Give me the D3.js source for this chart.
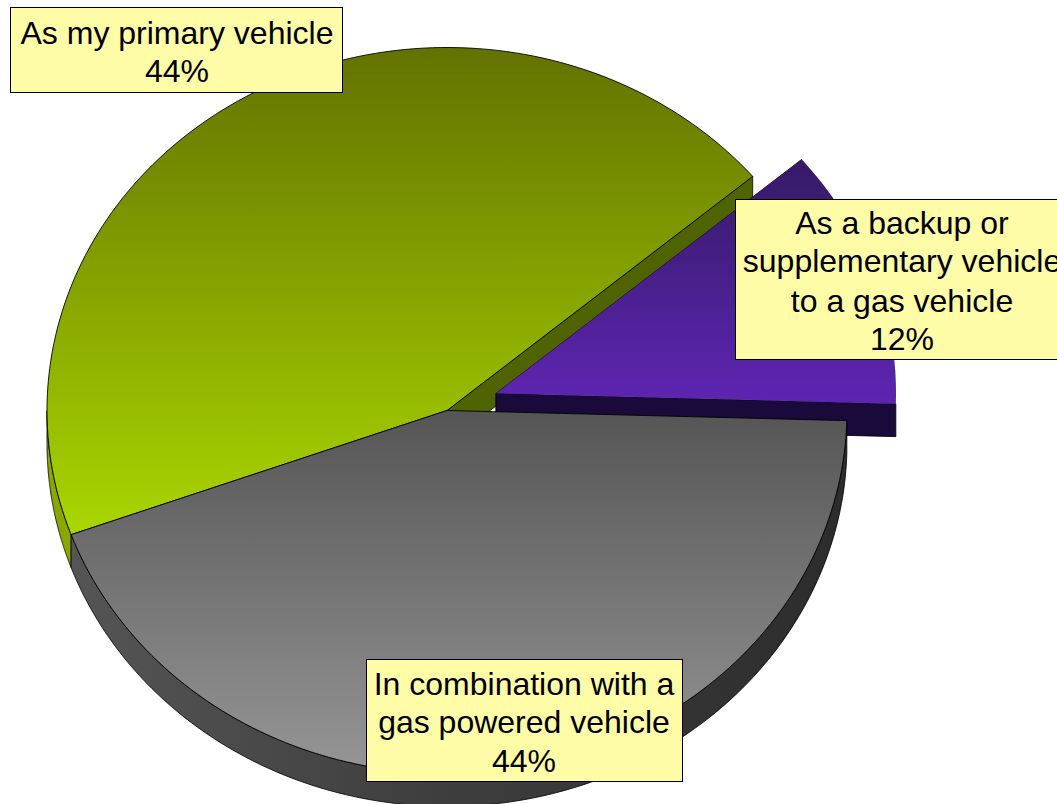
<!DOCTYPE html>
<html>
<head>
<meta charset="utf-8">
<script src="https://cdn.jsdelivr.net/npm/d3@7"></script>
<style>
html,body{margin:0;padding:0;background:#fff;overflow:hidden}
svg{display:block}
text{font-family:"Liberation Sans",Arial,sans-serif;font-size:32px;fill:#000;text-anchor:middle}
</style>
</head>
<body>
<svg id="c" width="1057" height="804"></svg>
<script>
// Data
const categories = ["In combination with a gas powered vehicle", "As my primary vehicle", "As a backup or supplementary vehicle to a gas vehicle"];
const sliceShares = [44.0, 44.4, 11.6];
const percentLabels = ["44%", "44%", "12%"];
const labelLines = [
  ["In combination with a", "gas powered vehicle"],
  ["As my primary vehicle"],
  ["As a backup or", "supplementary vehicle", "to a gas vehicle"]
];

// Styling and layout (not data)
const W = 1057, H = 804;
const cx = 447, cy = 410.5, rx = 400, ry = 363, depth = 33;
const firstAngleDeg = 91.6;
const explode = [[0, 0], [0, 0], [49, -17]];
const topStops = [
  [[0, "#555555"], [1, "#969696"]],
  [[0, "#637200"], [1, "#a9d600"]],
  [[0, "#351a66"], [1, "#5d25b2"]]
];
const gradY = [[410, 775], [47, 533], [158, 403]];
const wallStops = [
  [[0, "#555555"], [0.45, "#3f3f3f"], [1, "#2c2c2c"]],
  [[0, "#8aa600"], [1, "#8aa600"]],
  [[0, "#1a0a3c"], [1, "#220f4a"]]
];
const boxes = [
  {x: 366, y: 659, w: 316, h: 122, mx: 524, base: [695, 733, 772]},
  {x: 10, y: 7, w: 332, h: 85, mx: 177, base: [44, 82]},
  {x: 735, y: 199, w: 334, h: 160, mx: 902, base: [234, 272, 312, 350]}
];

const svg = d3.select("#c");
const defs = svg.append("defs");

const xs = d3.scaleLinear().domain([-1, 1]).range([cx - rx, cx + rx]);
const ys = d3.scaleLinear().domain([-1, 1]).range([cy - ry, cy + ry]);

const pie = d3.pie().sort(null).value(d => d)
  .startAngle(firstAngleDeg * Math.PI / 180)
  .endAngle((firstAngleDeg + 360) * Math.PI / 180);
const arcs = pie(sliceShares);

// Elliptical rim point for a clockwise-from-top angle
const pt = (a, i, dy) => [
  xs(Math.sin(a)) + explode[i][0],
  ys(-Math.cos(a)) + explode[i][1] + (dy || 0)
];
const line = d3.line();
const rim = (a0, a1, i, dy) => d3.range(0, 121).map(k => pt(a0 + (a1 - a0) * k / 120, i, dy));
const centre = (i, dy) => [xs(0) + explode[i][0], ys(0) + explode[i][1] + (dy || 0)];

// gradients
topStops.forEach((st, i) => {
  const g = defs.append("linearGradient").attr("id", "top" + i)
    .attr("gradientUnits", "userSpaceOnUse")
    .attr("x1", 0).attr("x2", 0).attr("y1", gradY[i][0]).attr("y2", gradY[i][1]);
  st.forEach(s => g.append("stop").attr("offset", s[0]).attr("stop-color", s[1]));
});
wallStops.forEach((st, i) => {
  const g = defs.append("linearGradient").attr("id", "wall" + i)
    .attr("gradientUnits", "userSpaceOnUse")
    .attr("x1", 70).attr("x2", 850).attr("y1", 0).attr("y2", 0);
  st.forEach(s => g.append("stop").attr("offset", s[0]).attr("stop-color", s[1]));
});

const wall = (a0, a1, i, fill) => svg.append("path")
  .attr("d", line(rim(a0, a1, i, 0).concat(rim(a1, a0, i, depth))) + "Z")
  .attr("fill", fill).attr("stroke", "#000").attr("stroke-width", 0.8).attr("stroke-linejoin", "round");
const radialWall = (a, i, fill) => svg.append("path")
  .attr("d", line([centre(i), pt(a, i), pt(a, i, depth), centre(i, depth)]) + "Z")
  .attr("fill", fill).attr("stroke", "#000").attr("stroke-width", 0.8).attr("stroke-linejoin", "round");
const face = (d, i) => svg.append("path")
  .attr("d", line([centre(i)].concat(rim(d.startAngle, d.endAngle, i))) + "Z")
  .attr("fill", `url(#top${i})`).attr("stroke", i === 2 ? "none" : "#000").attr("stroke-width", 0.9).attr("stroke-linejoin", "round");

const [gray, green, purple] = arcs;

// Back to front
radialWall(green.endAngle, 1, "#4f6300");
radialWall(purple.startAngle, 2, "#1d0b40");
radialWall(purple.endAngle, 2, "#1a0a3c");
face(purple, 2);
wall(green.startAngle, green.endAngle > 1.5 * Math.PI ? 1.5 * Math.PI : green.endAngle, 1, "#8aa600");
wall(gray.startAngle, gray.endAngle, 0, "url(#wall0)");
face(green, 1);
face(gray, 0);

// Labels
boxes.forEach((b, i) => {
  const g = svg.append("g");
  g.append("rect").attr("x", b.x + 1).attr("y", b.y + 1).attr("width", b.w).attr("height", b.h).attr("fill", "#999").attr("opacity", 0.5);
  g.append("rect").attr("x", b.x + 0.5).attr("y", b.y + 0.5).attr("width", b.w).attr("height", b.h)
    .attr("fill", "#fffca8").attr("stroke", "#000").attr("stroke-width", 1);
  labelLines[i].concat([percentLabels[i]]).forEach((t, k) => {
    g.append("text").attr("x", b.mx).attr("y", b.base[k]).text(t);
  });
});
</script>
</body>
</html>
